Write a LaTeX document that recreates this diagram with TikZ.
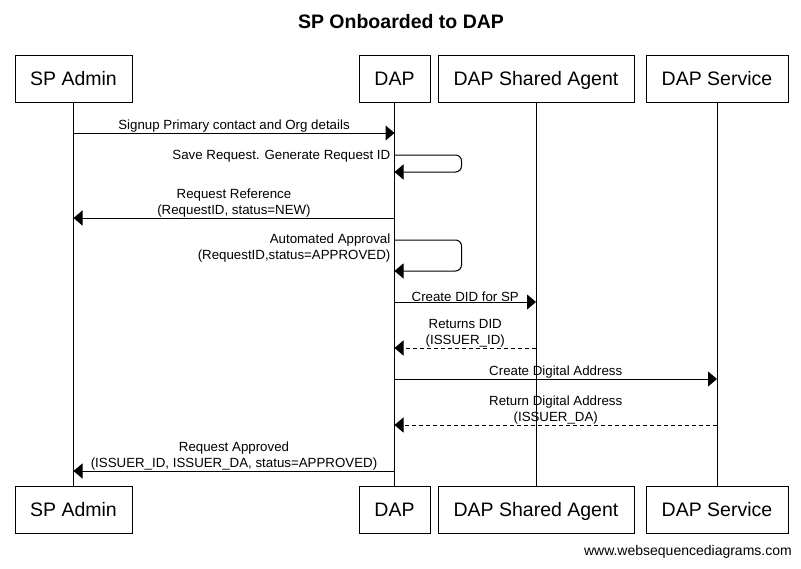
\documentclass[tikz,border=0pt]{standalone}
\usepackage{fontspec}
\setmainfont{Liberation Sans}
\usetikzlibrary{positioning}
\usetikzlibrary{arrows.meta}

\tikzset{
  actor/.style={draw,fill=white,line width=1pt,minimum height=47pt,inner sep=0pt,text height=17pt,text depth=3pt,font=\fontsize{19.5}{22}\selectfont},
  life/.style={line width=1pt},
  msg/.style={line width=1pt,-{Triangle[length=9pt,width=15pt]}},
  reply/.style={msg,dash pattern=on 4pt off 3pt},
  lbl/.style={font=\fontsize{13.3}{16}\selectfont,align=center,inner sep=0pt},
}

\begin{document}
\begin{tikzpicture}[x=1pt,y=-1pt]
 \useasboundingbox (0,0) rectangle (801,568);
 % title
 \node[font=\bfseries\fontsize{19.5}{22}\selectfont] (title) at (401,22) {SP Onboarded to DAP};
 % participants
 \node[actor,minimum width=117pt] (admTop) at (73.5,78.5) {SP Admin};
 \node[actor,minimum width=71pt] (dapTop) at (394.5,78.5) {DAP};
 \node[actor,minimum width=196pt] (agentTop) at (536,78.5) {DAP Shared Agent};
 \node[actor,minimum width=142pt] (svcTop) at (717,78.5) {DAP Service};
 \node[actor,minimum width=117pt] (admBot) at (73.5,509.5) {SP Admin};
 \node[actor,minimum width=71pt] (dapBot) at (394.5,509.5) {DAP};
 \node[actor,minimum width=196pt] (agentBot) at (536,509.5) {DAP Shared Agent};
 \node[actor,minimum width=142pt] (svcBot) at (717,509.5) {DAP Service};
 % lifelines
 \draw[life] (admTop.south) -- (admBot.north);
 \draw[life] (dapTop.south) -- (dapBot.north);
 \draw[life] (agentTop.south) -- (agentBot.north);
 \draw[life] (svcTop.south) -- (svcBot.north);
 % message rows
 \coordinate (r1) at (0,133);
 \coordinate (r2) at (0,155);
 \coordinate (r2b) at (0,172);
 \coordinate (r3) at (0,218);
 \coordinate (r4) at (0,240);
 \coordinate (r4b) at (0,271);
 \coordinate (r5) at (0,302);
 \coordinate (r6) at (0,348);
 \coordinate (r7) at (0,379);
 \coordinate (r8) at (0,425);
 \coordinate (r9) at (0,471);
 % messages
 \draw[msg] (admTop |- r1) -- (dapTop |- r1) node[lbl,midway,above=0pt] {Signup Primary contact and Org details};
 \draw[msg,rounded corners=6pt] (dapTop |- r2) -- ++(67,0) -- ++(0,17) -- (dapTop |- r2b);
 \node[lbl,anchor=east] (save) at ([xshift=-4pt,yshift=-1pt]dapTop |- r2) {Save Request. Generate Request ID};
 \draw[msg] (dapTop |- r3) -- (admTop |- r3) node[lbl,midway,above=0pt] {Request Reference\\(RequestID, status=NEW)};
 \draw[msg,rounded corners=6pt] (dapTop |- r4) -- ++(67,0) -- ++(0,31) -- (dapTop |- r4b);
 \node[lbl,anchor=north east,align=right] (auto) at ([xshift=-4pt,yshift=6pt]dapTop |- r4) {Automated Approval\\(RequestID,status=APPROVED)};
 \draw[msg] (dapTop |- r5) -- (agentTop |- r5) node[lbl,midway,above=0pt] {Create DID for SP};
 \draw[reply] (agentTop |- r6) -- (dapTop |- r6) node[lbl,midway,above=0pt] {Returns DID\\(ISSUER\_ID)};
 \draw[msg] (dapTop |- r7) -- (svcTop |- r7) node[lbl,midway,above=0pt] {Create Digital Address};
 \draw[reply] (svcTop |- r8) -- (dapTop |- r8) node[lbl,midway,above=0pt] {Return Digital Address\\(ISSUER\_DA)};
 \draw[msg] (dapTop |- r9) -- (admTop |- r9) node[lbl,midway,above=0pt] {Request Approved\\(ISSUER\_ID, ISSUER\_DA, status=APPROVED)};
 % footer
 \node[anchor=east,inner sep=0pt,font=\fontsize{14}{16}\selectfont] (site) at (792,552) {www.websequencediagrams.com};
\end{tikzpicture}
\end{document}
